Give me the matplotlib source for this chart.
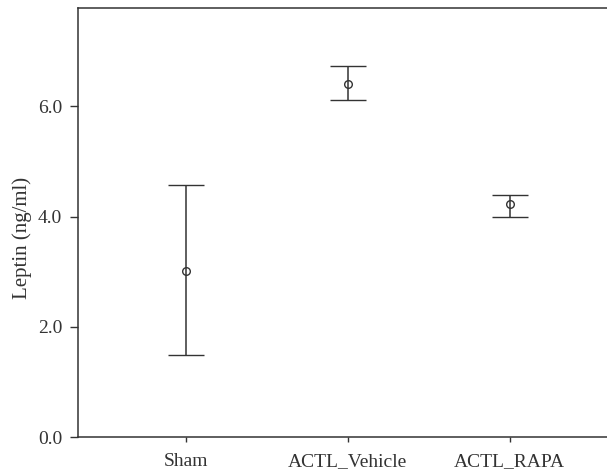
import numpy as np
import matplotlib
matplotlib.use("Agg")
import matplotlib.pyplot as plt

groups = ["Sham", "ACTL_Vehicle", "ACTL_RAPA"]
means = [3.01, 6.41, 4.22]
upper = [4.58, 6.73, 4.40]
lower = [1.49, 6.11, 3.99]

plt.rcParams['font.family'] = ['Liberation Serif', 'DejaVu Serif']

col = '#333333'
fig = plt.figure(figsize=(6.07, 4.76), dpi=100)
ax = fig.add_axes([0.1285, 0.0813, 0.8715, 0.9019])

x = np.arange(len(groups))
m = np.array(means)
err = [m - np.array(lower), np.array(upper) - m]
ax.errorbar(x, m, yerr=err, fmt='o', color=col, ecolor=col, elinewidth=1.1,
            capsize=13, capthick=1.1, markersize=5.5, markerfacecolor='none',
            markeredgewidth=1.0)

ax.set_xlim(-0.667, 2.6)
ax.set_ylim(0, 7.78)
ax.set_yticks([0, 2, 4, 6])
ax.set_yticklabels(["0.0", "2.0", "4.0", "6.0"])
ax.set_xticks(x)
ax.set_xticklabels(groups)
ax.set_ylabel("Leptin (ng/ml)", fontsize=15, color=col)
ax.yaxis.set_label_coords(-0.087, 0.465)

ax.spines['right'].set_visible(False)
for s in ['left', 'bottom', 'top']:
    ax.spines[s].set_color(col)
    ax.spines[s].set_linewidth(1.1)

ax.tick_params(axis='y', length=5.5, width=1.0, color=col, labelsize=14, labelcolor=col, pad=6)
ax.tick_params(axis='x', length=3.5, width=1.0, color=col, labelsize=14, labelcolor=col, pad=8)

fig.savefig("out.png", dpi=100)
